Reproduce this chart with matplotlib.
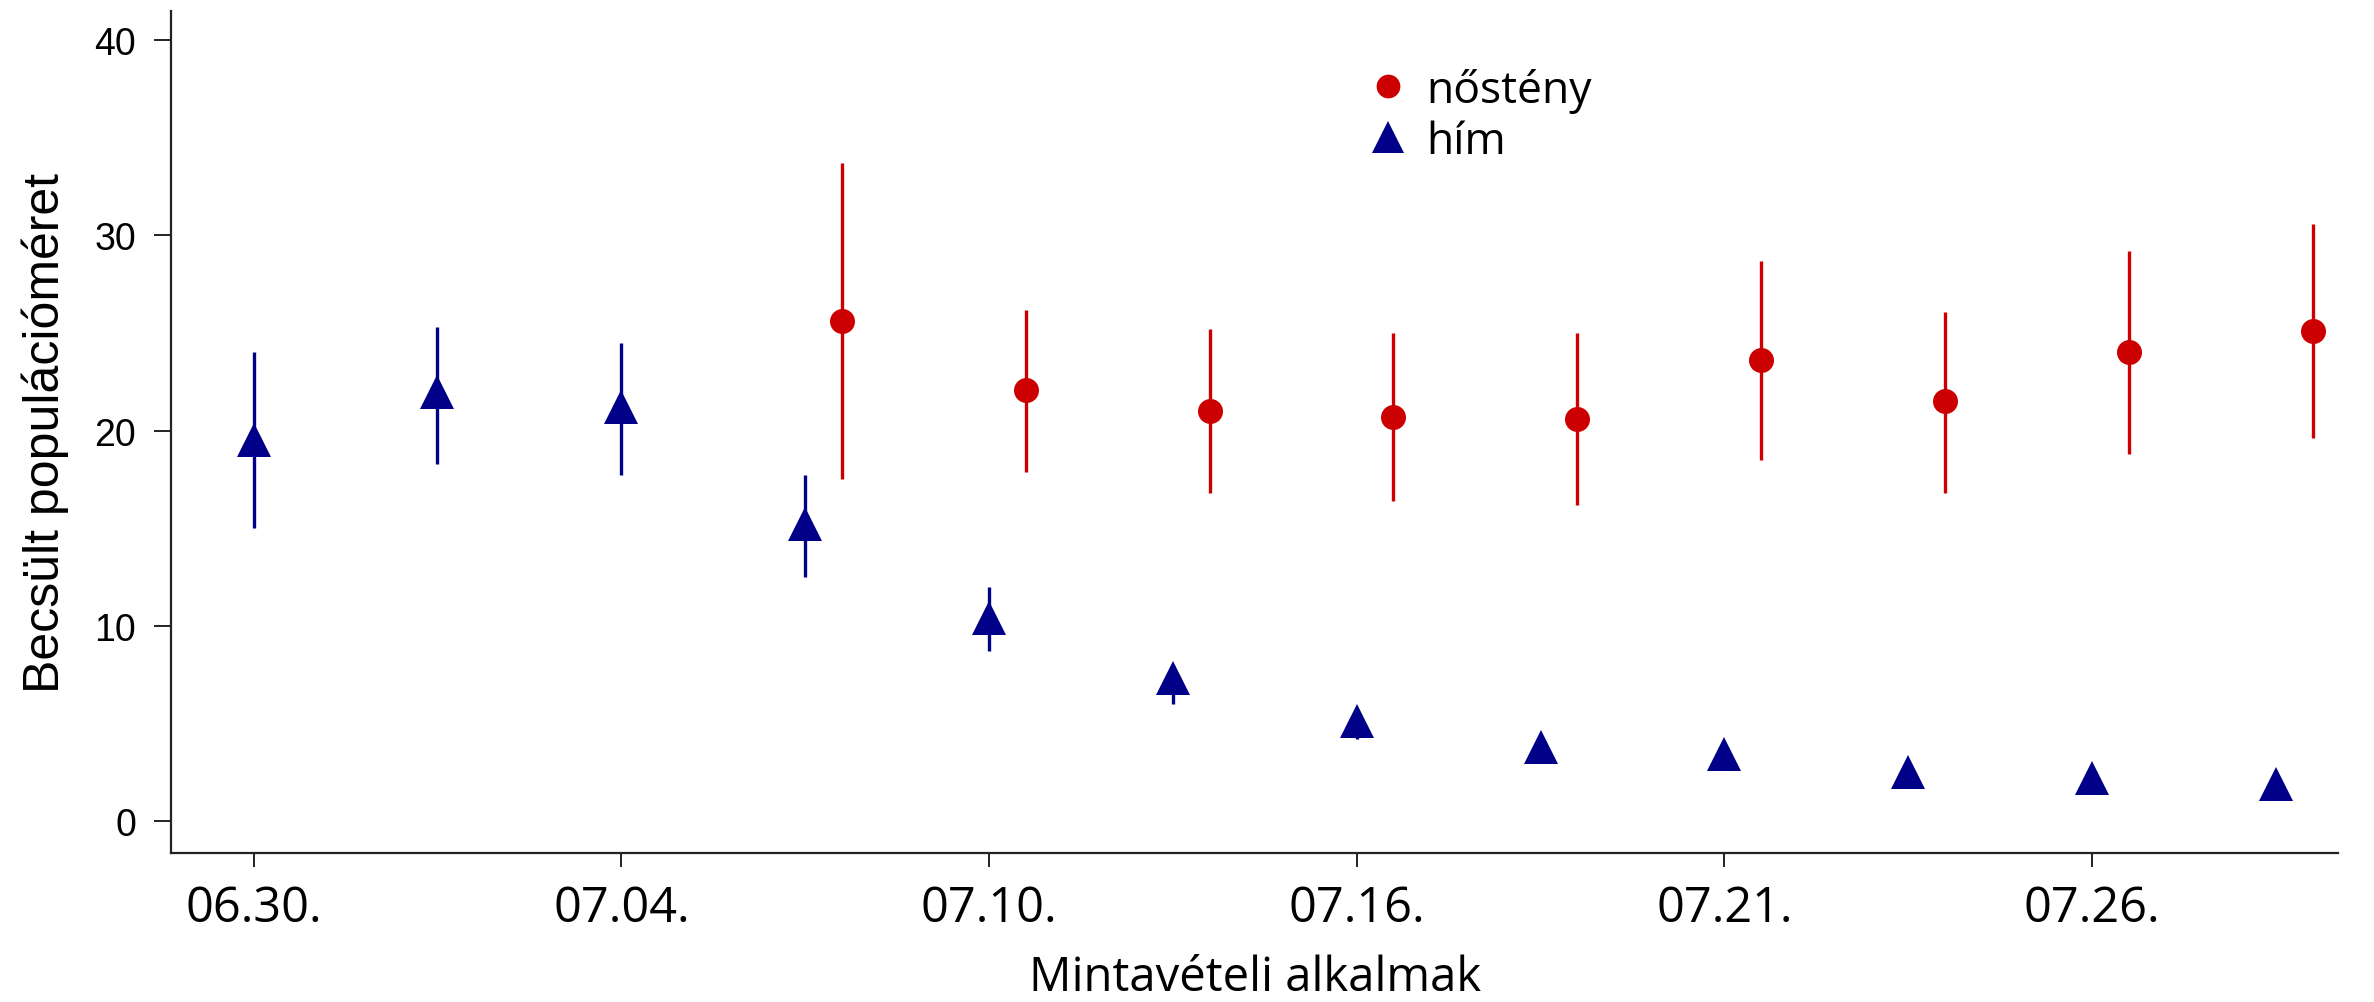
import numpy as np
import matplotlib
matplotlib.use("Agg")
import matplotlib.pyplot as plt

# sampling occasions (every second one gets a date label)
occasions = np.arange(12)
tick_pos = [0, 2, 4, 6, 8, 10]
tick_labels = ["06.30.", "07.04.", "07.10.", "07.16.", "07.21.", "07.26."]

# males: estimate with lower / upper confidence limits
male_est = [19.5, 22.0, 21.2, 15.2, 10.4, 7.3, 5.1, 3.8, 3.4, 2.5, 2.2, 1.9]
male_lo = [15.0, 18.3, 17.7, 12.5, 8.7, 6.0, 4.2, 3.0, 2.6, 1.7, 1.5, 1.2]
male_hi = [24.0, 25.3, 24.5, 17.7, 12.0, 8.0, 5.6, 4.3, 3.8, 2.8, 2.6, 2.2]

# females only from the 4th occasion on
female_occ = np.arange(3, 12)
female_est = [25.6, 22.1, 21.0, 20.7, 20.6, 23.6, 21.5, 24.0, 25.1]
female_lo = [17.5, 17.9, 16.8, 16.4, 16.2, 18.5, 16.8, 18.8, 19.6]
female_hi = [33.7, 26.2, 25.2, 25.0, 25.0, 28.7, 26.1, 29.2, 30.6]

red = "#cc0000"
blue = "#000088"
shift = 0.2

fig = plt.figure(figsize=(23.74, 10.03), dpi=100)
ax = fig.add_axes([0.072, 0.1486, 0.913, 0.8394])

male_est = np.array(male_est)
female_est = np.array(female_est)

ax.errorbar(occasions, male_est,
            yerr=[male_est - np.array(male_lo), np.array(male_hi) - male_est],
            fmt="none", ecolor=blue, elinewidth=2.4, capsize=0)
ax.plot(occasions, male_est, linestyle="none", marker="^", markersize=24,
        color=blue, markeredgewidth=0, label="hím")

ax.errorbar(female_occ + shift, female_est,
            yerr=[female_est - np.array(female_lo), np.array(female_hi) - female_est],
            fmt="none", ecolor=red, elinewidth=2.4, capsize=0)
ax.plot(female_occ + shift, female_est, linestyle="none", marker="o", markersize=18,
        color=red, markeredgewidth=0, label="nőstény")

ax.set_xlim(-0.45, 11.34)
ax.set_ylim(-1.65, 41.5)

for side in ["top", "right"]:
    ax.spines[side].set_visible(False)
for side in ["left", "bottom"]:
    ax.spines[side].set_linewidth(1.6)
    ax.spines[side].set_color("#222222")

ax.set_yticks([0, 10, 20, 30, 40])
ax.tick_params(axis="y", length=12, width=1.4, pad=13, labelsize=27, color="#222222")
for lab in ax.get_yticklabels():
    lab.set_family("Liberation Sans")

ax.set_xticks(tick_pos)
ax.set_xticklabels(tick_labels, fontsize=35, family="Open Sans")
ax.tick_params(axis="x", length=10, width=1.4, pad=12, color="#222222")

ax.set_ylabel("Becsült populációméret", fontsize=36, family="Liberation Sans", labelpad=18)
ax.set_xlabel("Mintavételi alkalmak", fontsize=34, family="Open Sans", labelpad=15)

handles, labels = ax.get_legend_handles_labels()
leg = ax.legend(handles[::-1], labels[::-1], loc="upper left",
                bbox_to_anchor=(0.533, 0.98), frameon=False,
                prop={"family": "Open Sans", "size": 32},
                handletextpad=0.35, labelspacing=0.15, markerscale=0.95,
                handlelength=1.0)

fig.savefig("out.png", dpi=100)
